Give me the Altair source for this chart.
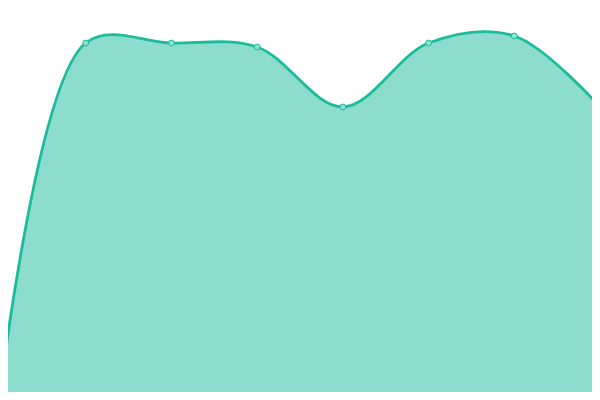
import altair as alt
import pandas as pd

# data (x index; value ~ pixels above the bottom)
xs = [0, 1, 2, 3, 4, 5, 6, 7]
values = [5, 357, 357, 353, 293, 357, 364, 293]

df = pd.DataFrame({"x": xs, "v": values})

xscale = alt.Scale(domain=[0.0933, 6.9067], nice=False, zero=False)
yscale = alt.Scale(domain=[8, 392], nice=False, zero=False)

base = alt.Chart(df).encode(
    x=alt.X("x:Q", scale=xscale, axis=None),
    y=alt.Y("v:Q", scale=yscale, axis=None),
)

area = base.mark_area(interpolate="catmull-rom", color="#1abc9c", opacity=0.5, clip=False)
line = base.mark_line(interpolate="catmull-rom", color="#1abc9c", strokeWidth=2.8, clip=False)
pts = base.mark_point(filled=True, size=34, fill="#8ee3d0", stroke="#1abc9c",
                      strokeWidth=1, opacity=1, clip=False)

chart = alt.layer(area, line, pts).properties(
    width=584, height=384, autosize="none", padding=0
).configure_view(stroke=None)

chart.save("out.html", embed_options={"renderer": "svg", "actions": False})
